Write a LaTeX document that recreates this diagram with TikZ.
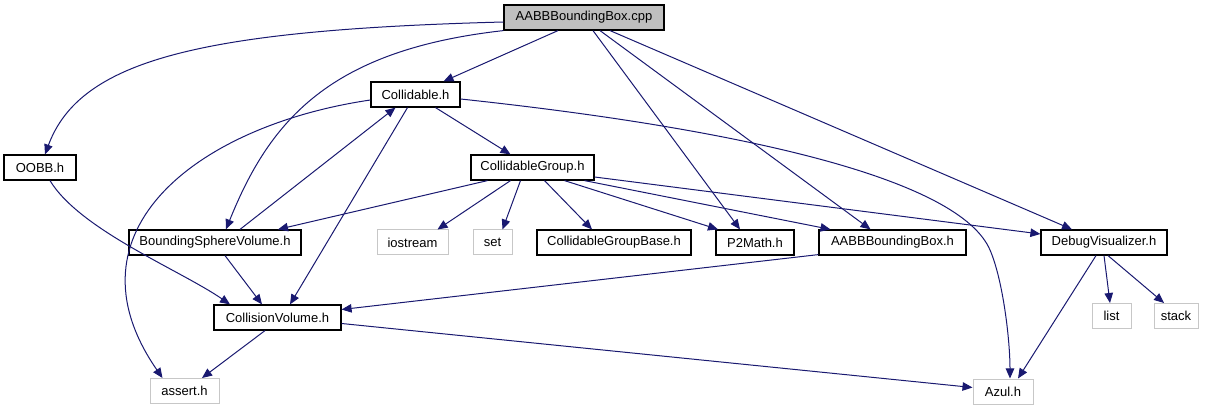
\documentclass[tikz,border=0pt]{standalone}
\usepackage{fontspec}
\setmainfont{Liberation Sans}
\usetikzlibrary{arrows.meta}
\definecolor{edgeblue}{HTML}{191970}
\begin{document}
\begin{tikzpicture}[x=1pt,y=-1pt,
  file/.style={draw=black, line width=1.2pt, fill=white, minimum height=25pt, inner sep=0pt, font=\fontsize{13}{15}\selectfont},
  sysfile/.style={file, draw=black!22, line width=1pt},
  dep/.style={draw=edgeblue, line width=1pt, -{Triangle[length=10pt,width=8.5pt]}}]
\useasboundingbox (0,0) rectangle (1215,411);
% nodes
\node[file, fill=black!25, minimum width=160pt] (cpp) at (584,17.5) {AABBBoundingBox.cpp};
\node[file, minimum width=89pt] (coll) at (415.5,94.5) {Collidable.h};
\node[file, minimum width=72pt] (oobb) at (40,167.5) {OOBB.h};
\node[file, minimum width=123pt] (cgroup) at (532.5,167.5) {CollidableGroup.h};
\node[file, minimum width=172pt] (bsv) at (215,242.5) {BoundingSphereVolume.h};
\node[sysfile, minimum width=71pt] (iostream) at (412.5,242.5) {iostream};
\node[sysfile, minimum width=39pt] (set) at (492.5,242.5) {set};
\node[file, minimum width=154pt] (cgbase) at (614,242.5) {CollidableGroupBase.h};
\node[file, minimum width=78pt] (p2math) at (755,242.5) {P2Math.h};
\node[file, minimum width=147pt] (aabbh) at (892.5,242.5) {AABBBoundingBox.h};
\node[file, minimum width=126pt] (debug) at (1104,242.5) {DebugVisualizer.h};
\node[sysfile, minimum width=39pt] (list) at (1111.5,316) {list};
\node[sysfile, minimum width=44pt] (stack) at (1176,316) {stack};
\node[file, minimum width=127pt] (cvol) at (277.5,317.5) {CollisionVolume.h};
\node[sysfile, minimum width=69pt] (assert) at (184.5,391) {assert.h};
\node[sysfile, minimum width=60pt] (azul) at (1003,391.5) {Azul.h};
% edges
\draw[dep] ([yshift=-4.5]cpp.west) .. controls (200,30) and (80,60) .. ([xshift=5]oobb.north);
\draw[dep] (cpp.south west) .. controls (330,50) and (270,120) .. ([xshift=11]bsv.north);
\draw[dep] ([xshift=-26]cpp.south) -- ([xshift=28]coll.north);
\draw[dep] ([xshift=9]cpp.south) -- ([xshift=-15]p2math.north);
\draw[dep] ([xshift=16]cpp.south) -- ([xshift=-22]aabbh.north);
\draw[dep] ([xshift=26]cpp.south) -- ([xshift=-32]debug.north);
\draw[dep] ([xshift=25]bsv.north) -- ([xshift=-20]coll.south);
\draw[dep] ([yshift=-5.5]coll.west) .. controls (200,125) and (60,230) .. ([xshift=-22]assert.north);
\draw[dep] ([xshift=-8]coll.south) -- ([xshift=12.5]cvol.north);
\draw[dep] ([xshift=20]coll.south) -- ([xshift=-22]cgroup.north);
\draw[dep] ([yshift=-4.5]coll.east) .. controls (750,130) and (960,180) .. (990,250)
  .. controls (1003,280) and (1010,340) .. ([xshift=7]azul.north);
\draw[dep] ([xshift=-45]cgroup.south) -- ([xshift=63]bsv.north);
\draw[dep] ([xshift=-22]cgroup.south) -- ([xshift=25]iostream.north);
\draw[dep] ([xshift=-12]cgroup.south) -- ([xshift=10]set.north);
\draw[dep] ([xshift=12]cgroup.south) -- ([xshift=-22]cgbase.north);
\draw[dep] ([xshift=32]cgroup.south) -- ([xshift=-37]p2math.north);
\draw[dep] ([xshift=52]cgroup.south) -- ([xshift=-62]aabbh.north);
\draw[dep] ([yshift=-9.5]cgroup.east) -- ([yshift=8.5]debug.west);
\draw[dep] ([xshift=10]oobb.south) .. controls (80,230) and (180,270) .. ([xshift=-47.5]cvol.north);
\draw[dep] ([xshift=10]bsv.south) -- ([xshift=-15.5]cvol.north);
\draw[dep] ([yshift=1]aabbh.south west) -- ([yshift=8]cvol.east);
\draw[dep] ([xshift=-12.5]cvol.south) -- ([xshift=17.5]assert.north);
\draw[dep] ([yshift=-6]cvol.east) -- ([yshift=4]azul.west);
\draw[dep] ([xshift=-8]debug.south) -- ([xshift=15]azul.north);
\draw[dep] ([xshift=0]debug.south) -- ([xshift=-1.5]list.north);
\draw[dep] ([xshift=4]debug.south) -- ([xshift=-12]stack.north);
\end{tikzpicture}
\end{document}
